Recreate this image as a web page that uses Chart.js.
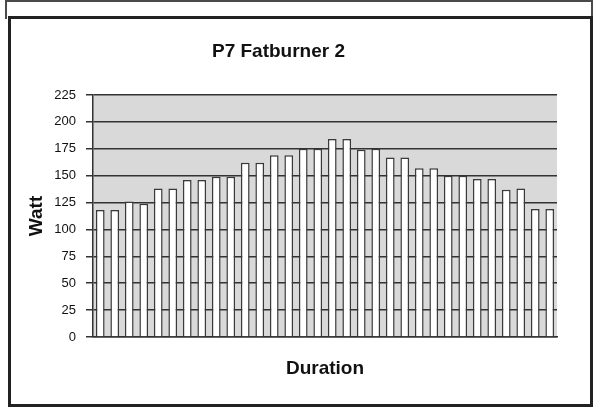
<!DOCTYPE html>
<html>
<head>
<meta charset="utf-8">
<title>P7 Fatburner 2</title>
<script src="https://cdn.jsdelivr.net/npm/chart.js@4"></script>
<style>
  html, body { margin: 0; padding: 0; background: #fff; }
  body { width: 596px; height: 409px; position: relative; overflow: hidden; }
  #wrap { position: absolute; left: 0; top: 0; width: 596px; height: 409px; }
  /* frame lines around the chart, like the exported picture */
  .frame-top { position: absolute; left: 5px; top: 0; width: 584px; height: 17px;
               border: 2px solid #4a4a4a; border-bottom: none; pointer-events: none; }
  .frame-box { position: absolute; left: 8px; top: 16px; width: 579px; height: 385px;
               border: 3px solid #222; pointer-events: none; }
</style>
</head>
<body>
<div id="wrap"><canvas id="chart"></canvas></div>
<div class="frame-top"></div>
<div class="frame-box"></div>
<script>
// data (32 intervals, watts)
const intervals = Array.from({ length: 32 }, (_, i) => String(i + 1));
const watts = [118, 118, 126, 124, 138, 138, 146, 146, 149, 149, 162, 162, 169, 169, 175, 175,
               184, 184, 174, 175, 167, 167, 157, 157, 150, 150, 147, 147, 137, 138, 119, 119];
const yTicks = [0, 25, 50, 75, 100, 125, 150, 175, 200, 225];

const chartTitle = "P7 Fatburner 2";
const xTitle = "Duration";
const yTitle = "Watt";

const FONT = "'Liberation Sans', Arial, sans-serif";

// grey plot area behind the bars
const plotBackground = {
  id: "plotBackground",
  beforeDraw(chart) {
    const { ctx, chartArea: a } = chart;
    ctx.save();
    ctx.fillStyle = "#d9d9d9";
    ctx.fillRect(a.left, a.top, a.right - a.left, a.bottom - a.top);
    ctx.restore();
  }
};

const ctx = document.getElementById("chart").getContext("2d");
new Chart(ctx, {
  type: "bar",
  data: {
    labels: intervals,
    datasets: [{
      label: "Watt",
      data: watts,
      backgroundColor: "#ffffff",
      borderColor: "#3a3a3a",
      borderWidth: 1.5,
      borderSkipped: "bottom",
      categoryPercentage: 1,
      barPercentage: 0.6
    }]
  },
  options: {
    responsive: true,
    maintainAspectRatio: false,
    animation: false,
    layout: { padding: { left: 0, right: 39, top: 0, bottom: 0 } },
    plugins: {
      legend: { display: false },
      tooltip: { enabled: false },
      title: {
        display: true,
        text: chartTitle,
        color: "#111",
        font: { family: FONT, size: 19, weight: "bold" },
        padding: { top: 40.6, bottom: 31.6 }
      }
    },
    scales: {
      x: {
        grid: { display: false },
        border: { display: true, color: "#333", width: 1.5 },
        ticks: { display: false },
        title: {
          display: true,
          text: xTitle,
          color: "#111",
          font: { family: FONT, size: 19, weight: "bold" },
          padding: { top: 0, bottom: 28.6 }
        },
        afterFit(scale) { scale.height = 72; }
      },
      y: {
        min: 0,
        max: 225,
        afterBuildTicks(scale) { scale.ticks = yTicks.map(v => ({ value: v })); },
        grid: { color: "#333", lineWidth: 1.5, tickLength: 7, drawTicks: true },
        border: { display: true, color: "#333", width: 1.5 },
        ticks: {
          color: "#111",
          padding: 10,
          font: { family: FONT, size: 13 }
        },
        title: {
          display: true,
          text: yTitle,
          color: "#111",
          font: { family: FONT, size: 19, weight: "bold" },
          padding: { top: 25.6, bottom: 0 }
        },
        afterFit(scale) { scale.width = 93; }
      }
    }
  },
  plugins: [plotBackground]
});
</script>
</body>
</html>
